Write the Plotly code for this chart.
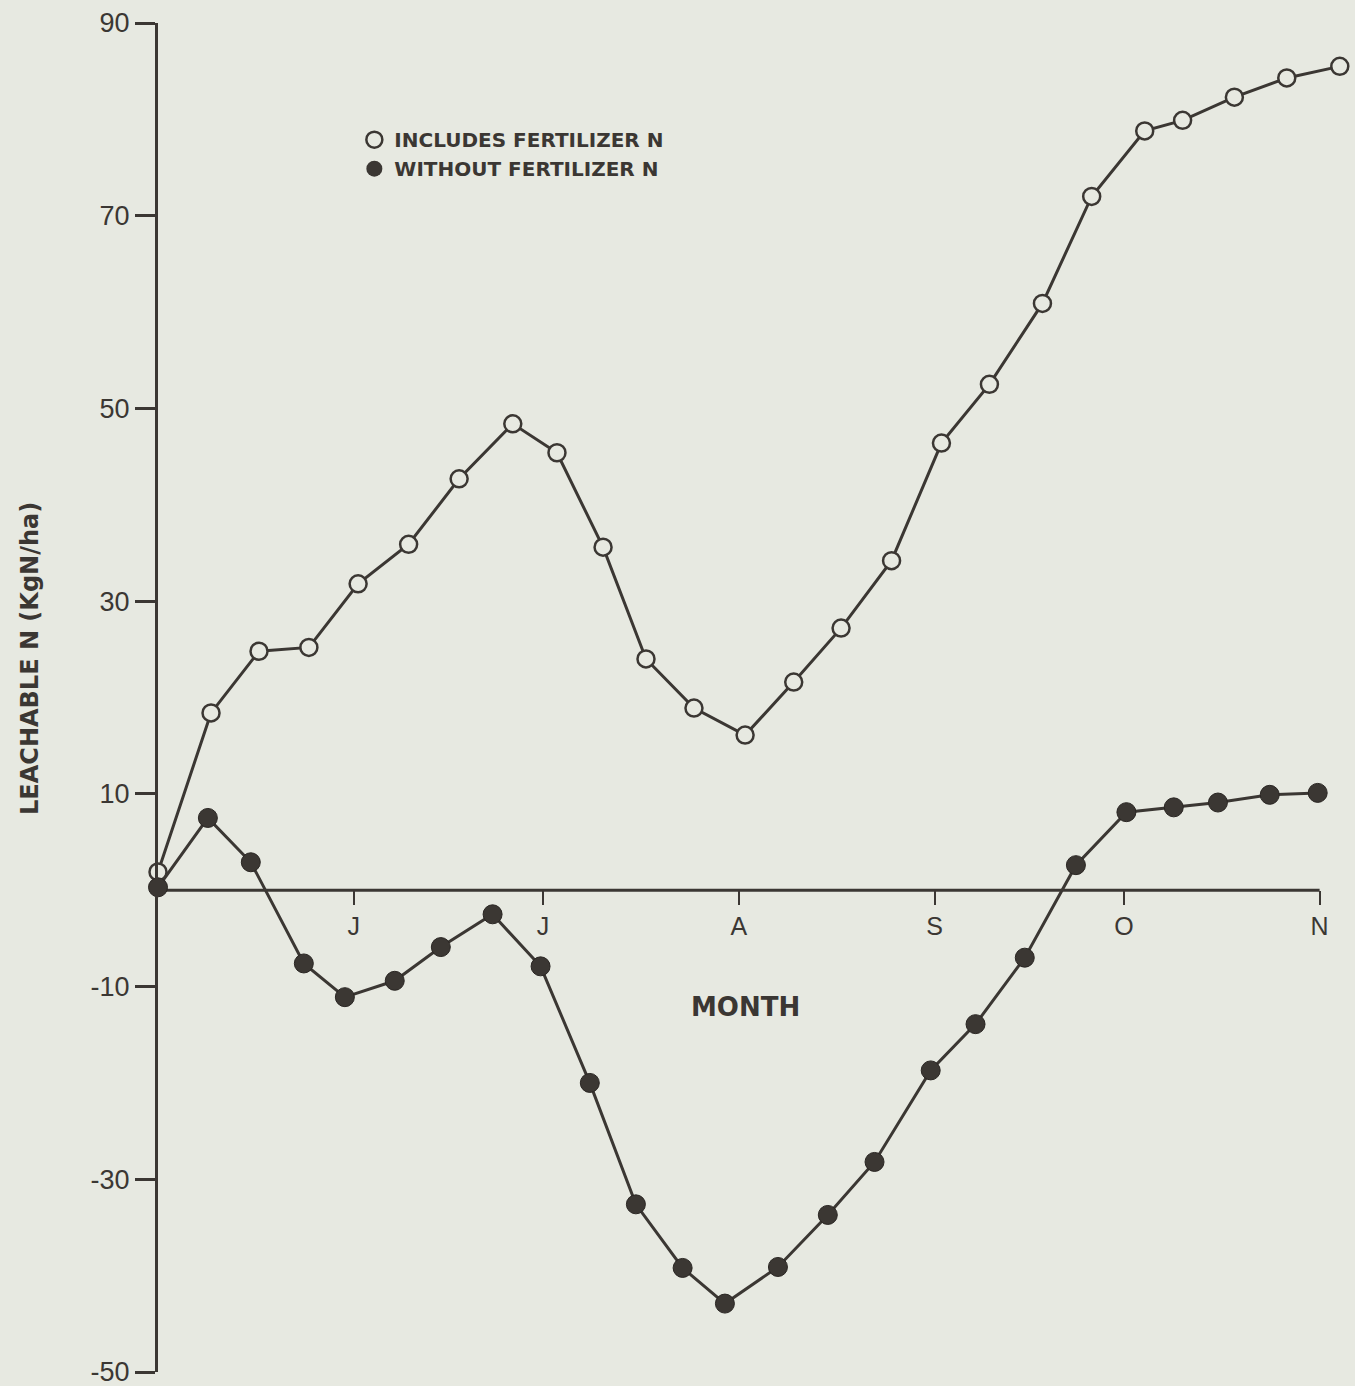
import plotly.graph_objects as go

# Days since 1 May (x) and leachable N in kg N/ha (y)
days_with_fert = [0, 8.4, 16, 23.9, 31.7, 39.7, 47.7, 56.2, 63.2, 70.5, 77.3, 84.9, 93,
                  100.7, 108.2, 116.2, 124.1, 131.7, 140.1, 147.9, 156.3, 162.3, 170.5, 178.8, 187.2]
n_with_fert = [1.9, 18.4, 24.8, 25.2, 31.8, 35.9, 42.7, 48.4, 45.4, 35.6, 24.0, 18.9, 16.1,
               21.6, 27.2, 34.2, 46.4, 52.5, 60.9, 72.0, 78.8, 79.9, 82.3, 84.3, 85.5]

days_without_fert = [0, 7.9, 14.7, 23.1, 29.6, 37.5, 44.8, 53, 60.6, 68.4, 75.7, 83.1, 89.8,
                     98.2, 106.1, 113.5, 122.4, 129.5, 137.3, 145.4, 153.4, 160.9, 167.9, 176.1, 183.7]
n_without_fert = [0.3, 7.5, 2.9, -7.6, -11.1, -9.4, -5.9, -2.5, -7.9, -20.0, -32.6, -39.2, -42.9,
                  -39.1, -33.7, -28.2, -18.7, -13.9, -7.0, 2.6, 8.1, 8.6, 9.1, 9.9, 10.1]

month_days = [31, 61, 92, 123, 153, 184]
month_labels = ["J", "J", "A", "S", "O", "N"]

y_ticks = [90, 70, 50, 30, 10, -10, -30, -50]
y_tick_labels = ["90", "70", "50", "30", "10", "-10", "-30", "-50"]

INK = "#3b3733"
BG = "#e7e9e1"
FONT = "Liberation Sans"
WIDE = "DejaVu Sans"

fig = go.Figure()

fig.add_trace(go.Scatter(
    x=days_with_fert, y=n_with_fert, mode="lines+markers",
    line=dict(color=INK, width=3),
    marker=dict(symbol="circle", size=17, color=BG, line=dict(color=INK, width=2.5)),
    cliponaxis=False, showlegend=False, name="INCLUDES FERTILIZER N"))

fig.add_trace(go.Scatter(
    x=days_without_fert, y=n_without_fert, mode="lines+markers",
    line=dict(color=INK, width=3),
    marker=dict(symbol="circle", size=19, color=INK, line=dict(color="#2a2623", width=1)),
    cliponaxis=False, showlegend=False, name="WITHOUT FERTILIZER N"))

# legend entries (markers only, as in the original key)
fig.add_trace(go.Scatter(
    x=[None], y=[None], mode="markers", name="<b>INCLUDES FERTILIZER N</b>",
    marker=dict(symbol="circle", size=16, color=BG, line=dict(color=INK, width=2.5))))
fig.add_trace(go.Scatter(
    x=[None], y=[None], mode="markers", name="<b>WITHOUT FERTILIZER N</b>",
    marker=dict(symbol="circle", size=18, color=INK)))

# x axis line drawn at y = 0 from May to November
fig.add_shape(type="line", x0=0, x1=month_days[-1], y0=0, y1=0,
              xref="x", yref="y", line=dict(color=INK, width=3), layer="below")

fig.add_annotation(x=93, y=-12.1, xref="x", yref="y", text="<b>MONTH</b>",
                   showarrow=False, font=dict(family=WIDE, size=26, color=INK))

fig.add_annotation(x=(30 - 158) / 1190, y=24, xref="paper", yref="y", xanchor="center",
                   text="<b>LEACHABLE N (KgN/ha)</b>", textangle=-90, showarrow=False,
                   font=dict(family=WIDE, size=24, color=INK))

fig.update_layout(
    width=1355, height=1386,
    margin=dict(l=158, r=7, t=23, b=14, autoexpand=False),
    paper_bgcolor=BG, plot_bgcolor=BG,
    font=dict(family=FONT, color=INK),
    legend=dict(x=0.165, y=0.928, xanchor="left", yanchor="top",
                bgcolor="rgba(0,0,0,0)", font=dict(family=WIDE, size=20, color=INK),
                tracegroupgap=0, itemsizing="trace"),
    xaxis=dict(range=[0, 188.5], anchor="free", position=50 / 140, automargin=False,
               showline=False, showgrid=False, zeroline=False,
               tickmode="array", tickvals=month_days, ticktext=month_labels,
               ticks="outside", ticklen=14, tickwidth=2, tickcolor=INK,
               tickfont=dict(family=FONT, size=25, color=INK)),
    yaxis=dict(range=[-50, 90], showline=True, linecolor=INK, linewidth=3, automargin=False,
               showgrid=False, zeroline=False, ticklabeloverflow="allow",
               tickmode="array", tickvals=y_ticks, ticktext=y_tick_labels,
               ticks="outside", ticklen=20, tickwidth=3, tickcolor=INK,
               tickfont=dict(family=FONT, size=27, color=INK)),
)

fig.write_html("out.html")
